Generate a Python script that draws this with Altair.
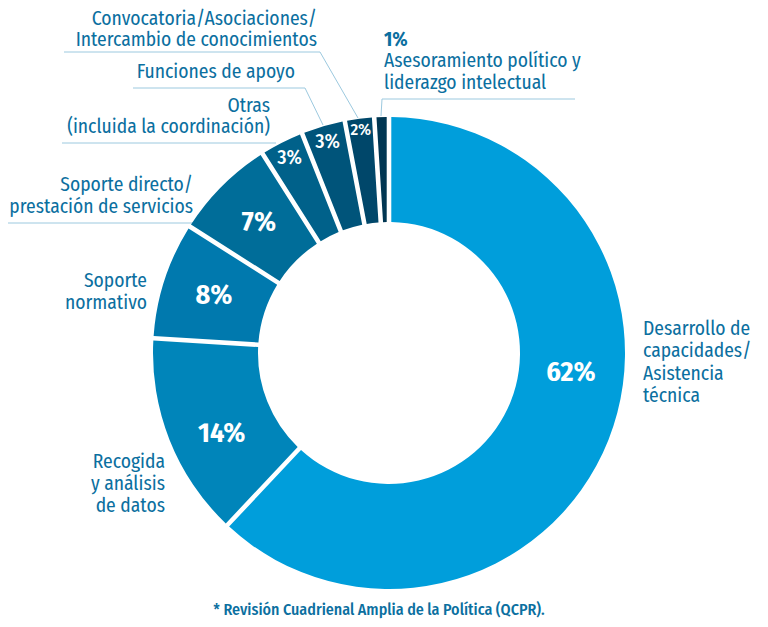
import math
import altair as alt
import pandas as pd

# ---- data ----
categories = [
    "Desarrollo de capacidades/Asistencia técnica",
    "Recogida y análisis de datos",
    "Soporte normativo",
    "Soporte directo/prestación de servicios",
    "Otras (incluida la coordinación)",
    "Funciones de apoyo",
    "Convocatoria/Asociaciones/Intercambio de conocimientos",
    "Asesoramiento político y liderazgo intelectual",
]
values = [62, 14, 8, 7, 3, 3, 2, 1]
pct_text = ["62%", "14%", "8%", "7%", "3%", "3%", "2%", ""]

# ---- styling / layout ----
colors = ["#009EDB", "#0085BA", "#0079AE", "#006D99", "#00618A", "#00547A", "#00476A", "#003652"]
pct_sizes = [28, 28, 28, 28, 20, 20, 17, 1]
pct_big = [True, True, True, True, False, False, False, False]
# label anchor along ring (percent-of-circle units) and radius in px
label_at = [26.75, 67.8, 80.0, 87.5, 92.5, 95.5, 98.0, 99.5]
label_r = [183, 186, 184, 184, 219, 220, 225, 225]

M = 8  # page margin
CX, CY = 389 - M, 353 - M
R_OUT, R_IN = 236, 131

FONT = "Fira Sans Condensed, Liberation Sans Narrow, Roboto Condensed, Roboto"
FS = 19.5
TXT = "#0B6FA0"
LEAD = "#9CC9DF"

right_labels = [
    ("Convocatoria/Asociaciones/", 317, 18.5),
    ("Intercambio  de conocimientos", 317, 40),
    ("Funciones de apoyo", 295, 72),
    ("Otras", 270, 106),
    ("(incluida la coordinación)", 270, 127),
    ("Soporte directo/", 193, 185),
    ("prestación de servicios", 193, 207),
    ("Soporte", 147, 281),
    ("normativo", 147, 303),
    ("Recogida", 165, 462),
    ("y análisis", 165, 484),
    ("de datos", 165, 506),
]
left_labels = [
    ("Desarrollo de", 643, 329),
    ("capacidades/", 643, 351),
    ("Asistencia", 643, 374),
    ("técnica", 643, 396),
    ("Asesoramiento político y", 384, 61),
    ("liderazgo  intelectual", 384, 83),
]
bold_labels = [("1%", 384, 40)]
leaders = [
    [(64, 52), (320, 52), (358, 118)],
    [(133, 88), (305, 88), (323, 125)],
    [(62, 143), (276, 143)],
    [(5, 223), (195, 223)],
    [(575, 99), (382, 99), (381, 116)],
]
footnote = ("* Revisión Cuadrienal Amplia de la Política (QCPR).", 379, 610)

# ---- tables ----
df = pd.DataFrame({
    "cat": categories,
    "value": values,
    "idx": list(range(len(values))),
    "pct": pct_text,
    "size": pct_sizes,
    "big": pct_big,
    "lt": label_at,
    "lr": label_r,
})

def lab_df(rows):
    return pd.DataFrame({"t": [r[0] for r in rows],
                         "x": [r[1] - M for r in rows],
                         "y": [r[2] - M for r in rows]})

lead_rows = []
for i, pts in enumerate(leaders):
    for j, (x, y) in enumerate(pts):
        lead_rows.append({"id": i, "o": j, "x": x - M, "y": y - M})
lead_df = pd.DataFrame(lead_rows)

# ---- layers ----
arcs = alt.Chart(df).mark_arc(
    innerRadius=R_IN, outerRadius=R_OUT, padAngle=0.017
).encode(
    theta=alt.Theta("value:Q", stack=True, scale=alt.Scale(domain=[0, 100], range=[0, 2 * math.pi])),
    color=alt.Color("cat:N", scale=alt.Scale(domain=categories, range=colors), legend=None),
    order=alt.Order("idx:Q"),
    x=alt.value(CX),
    y=alt.value(CY),
)

def pct_layer(big):
    return alt.Chart(df[df["big"] == big]).mark_text(
        font=FONT, fontWeight="bold" if big else 500, color="white",
        baseline="middle", align="center"
    ).encode(
        theta=alt.Theta("lt:Q", stack=False, scale=alt.Scale(domain=[0, 100], range=[0, 2 * math.pi])),
        radius=alt.Radius("lr:Q", scale=None),
        text="pct:N",
        size=alt.Size("size:Q", scale=None),
        x=alt.value(CX),
        y=alt.value(CY),
    )

def text_layer(rows, align, weight="normal", size=FS):
    return alt.Chart(lab_df(rows)).mark_text(
        font=FONT, fontSize=size, fontWeight=weight, color=TXT, align=align, baseline="middle"
    ).encode(
        x=alt.X("x:Q", scale=None),
        y=alt.Y("y:Q", scale=None),
        text="t:N",
    )

lines = alt.Chart(lead_df).mark_line(color=LEAD, strokeWidth=1).encode(
    x=alt.X("x:Q", scale=None),
    y=alt.Y("y:Q", scale=None),
    detail="id:N",
    order="o:Q",
)

foot = text_layer([footnote], "center", weight=500, size=16)

chart = alt.layer(
    lines, arcs, pct_layer(True), pct_layer(False),
    text_layer(right_labels, "right"),
    text_layer(left_labels, "left"),
    text_layer(bold_labels, "left", weight="bold", size=FS),
    foot,
).resolve_scale(theta="independent").properties(
    width=752, height=611, padding=0, autosize="none"
).configure_view(stroke=None)

chart.save("out.html", embed_options={"renderer": "svg", "actions": False})
